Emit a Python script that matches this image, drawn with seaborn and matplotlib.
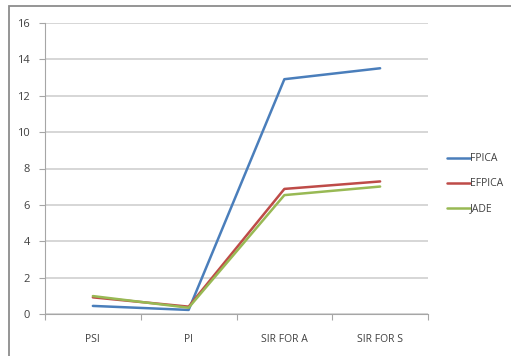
import matplotlib
matplotlib.use("Agg")
import matplotlib.pyplot as plt
from matplotlib.patches import Rectangle
from matplotlib.ticker import FixedLocator
import seaborn as sns
import pandas as pd

categories = ["PSI", "PI", "SIR FOR A", "SIR FOR S"]
fpica = [0.46, 0.24, 12.9, 13.5]
efpica = [0.93, 0.42, 6.88, 7.29]
jade = [1.0, 0.36, 6.54, 7.01]
series_names = ["FPICA", "EFPICA", "JADE"]
colors = ["#4a7ebb", "#be4b48", "#98b954"]
y_ticks = [0, 2, 4, 6, 8, 10, 12, 14, 16]

df = pd.DataFrame({
    "metric": categories * 3,
    "value": fpica + efpica + jade,
    "method": [n for n in series_names for _ in categories],
})

sns.set_theme(style="white")
plt.rcParams["font.family"] = ["Open Sans", "DejaVu Sans"]

fig = plt.figure(figsize=(5.11, 3.56), dpi=100)
ax = fig.add_axes([45 / 511, 1 - 314.3 / 356, (428 - 45) / 511, (314.3 - 22.7) / 356])

# outer chart frame
fig.patches.append(Rectangle((9 / 511, -0.1), 1.2, 1 - 6 / 356 + 0.1,
                             transform=fig.transFigure, fill=False,
                             edgecolor="#8c8c8c", linewidth=1.3, zorder=0))

sns.lineplot(data=df, x="metric", y="value", hue="method", hue_order=series_names,
             palette=colors, linewidth=1.8, ax=ax, sort=False, legend=False)

ax.set_xlim(-0.5, 3.5)
ax.set_ylim(0, 16)
ax.set_yticks(y_ticks)
ax.set_xticks(range(len(categories)))
ax.set_xticklabels(categories)
ax.xaxis.set_minor_locator(FixedLocator([-0.5, 0.5, 1.5, 2.5, 3.5]))
ax.tick_params(axis="x", which="major", length=0, pad=14, labelsize=7.5, colors="#404040")
ax.tick_params(axis="x", which="minor", length=4, width=0.8, color="#a6a6a6", bottom=True)
ax.tick_params(axis="y", length=4, width=0.8, color="#a6a6a6", left=True, pad=7,
               labelsize=8, labelcolor="#404040")
ax.yaxis.grid(True, color="#d0d0d0", linewidth=1.2)
ax.set_axisbelow(True)
for side in ["top", "right"]:
    ax.spines[side].set_visible(False)
ax.spines["left"].set_color("#a6a6a6")
ax.spines["bottom"].set_color("#a6a6a6")
ax.spines["left"].set_linewidth(0.8)
ax.spines["bottom"].set_linewidth(0.8)
ax.set_xlabel("")
ax.set_ylabel("")

handles = [plt.Line2D([], [], color=c, linewidth=1.8) for c in colors]
fig.legend(handles, series_names, loc="upper left",
           bbox_to_anchor=(438 / 511, 1 - 144 / 356), frameon=False,
           handlelength=2.2, handletextpad=0.0, labelspacing=1.35,
           fontsize=7.5, labelcolor="#404040")

fig.savefig("out.png", dpi=100)
